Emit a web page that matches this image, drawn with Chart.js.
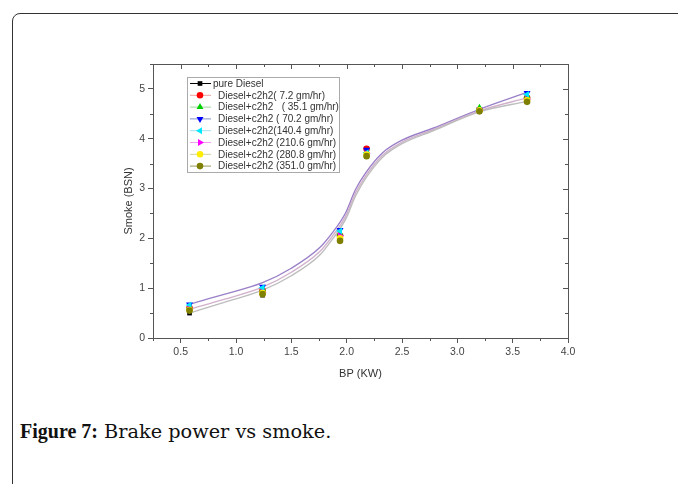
<!DOCTYPE html>
<html>
<head>
<meta charset="utf-8">
<script src="https://cdn.jsdelivr.net/npm/chart.js@4.4.1/dist/chart.umd.min.js"></script>
<style>
  html, body { margin: 0; padding: 0; background: #fff; }
  body { width: 678px; height: 484px; position: relative; overflow: hidden; }
  #frame {
    position: absolute; left: 12px; top: 13px; width: 720px; height: 520px;
    border: 1.5px solid #333; border-radius: 8px; box-sizing: border-box;
  }
  #wrap { position: absolute; left: 0; top: 0; width: 678px; height: 400px; }
  #caption {
    position: absolute; left: 20px; top: 420px; white-space: nowrap;
    font-family: "DejaVu Serif", "Liberation Serif", serif; font-size: 19.3px; color: #111;
  }
  #caption b { font-family: "Liberation Serif", serif; font-size: 20px; font-weight: bold; }
</style>
</head>
<body>
<div id="frame"></div>
<div id="wrap"><canvas id="grafico" width="678" height="400"></canvas></div>
<div id="caption"><b>Figure 7:</b> Brake power vs smoke.</div>

<script>
// Datos
const bpValues = [0.58, 1.24, 1.94, 2.18, 3.2, 3.63];

const seriesNames = [
    'pure Diesel',
    'Diesel+c2h2( 7.2 gm/hr)',
    'Diesel+c2h2   ( 35.1 gm/hr)',
    'Diesel+c2h2 ( 70.2 gm/hr)',
    'Diesel+c2h2(140.4 gm/hr)',
    'Diesel+c2h2 (210.6 gm/hr)',
    'Diesel+c2h2 (280.8 gm/hr)',
    'Diesel+c2h2 (351.0 gm/hr)'
];

const smokePure = [0.50, 0.86, 1.95, 3.65, 4.55, 4.75];
const smoke7_2 = [0.60, 0.95, 2.05, 3.80, 4.58, 4.82];
const smoke35_1 = [0.62, 0.98, 2.10, 3.75, 4.62, 4.86];
const smoke70_2 = [0.67, 1.03, 2.17, 3.78, 4.58, 4.92];
const smoke140_4 = [0.66, 1.01, 2.15, 3.72, 4.57, 4.89];
const smoke210_6 = [0.58, 0.92, 2.05, 3.70, 4.56, 4.79];
const smoke280_8 = [0.56, 0.90, 2.00, 3.68, 4.57, 4.77];
const smoke351_0 = [0.55, 0.88, 1.95, 3.65, 4.55, 4.74];

const fitX = [0.58, 0.9, 1.24, 1.5, 1.75, 1.87, 1.99, 2.08, 2.17, 2.32, 2.5, 2.78, 3.2, 3.63];
const fitTop = [0.68, 0.88, 1.11, 1.40, 1.80, 2.11, 2.51, 2.98, 3.31, 3.71, 3.97, 4.21, 4.59, 4.93];
const fitMid = [0.58, 0.78, 1.02, 1.32, 1.72, 2.04, 2.44, 2.91, 3.25, 3.66, 3.93, 4.18, 4.56, 4.82];
const fitLow = [0.50, 0.72, 0.96, 1.25, 1.65, 1.98, 2.38, 2.85, 3.20, 3.62, 3.90, 4.16, 4.54, 4.75];

const xTicks = [0.5, 1.0, 1.5, 2.0, 2.5, 3.0, 3.5, 4.0];
const yTicks = [0, 1, 2, 3, 4, 5];

document.addEventListener('DOMContentLoaded', () => {

    const allSeries = [smokePure, smoke7_2, smoke35_1, smoke70_2, smoke140_4, smoke210_6, smoke280_8, smoke351_0];
    const markerColors = ['#000000', '#ff0000', '#00d000', '#0000ff', '#00e8ff', '#ff00ff', '#ffee00', '#808000'];
    const legendLineColors = ['#000000', '#f4a0a0', '#a0d8a0', '#8090d0', '#a0e0f0', '#f0a0f0', '#d0d0a0', '#9a9a60'];
    const markerStyles = ['rect', 'circle', 'triangle', 'triangle', 'triangle', 'triangle', 'circle', 'circle'];
    const markerRot = [0, 0, 0, 180, -90, 90, 0, 0];

    const pointSets = allSeries.map((vals, i) => ({
        label: seriesNames[i],
        type: 'scatter',
        data: bpValues.map((x, j) => ({ x: x, y: vals[j] })),
        backgroundColor: markerColors[i],
        borderColor: markerColors[i],
        pointStyle: markerStyles[i],
        rotation: markerRot[i],
        pointRadius: markerStyles[i] === 'triangle' ? 4 : 3.3,
        borderWidth: 0,
        order: 10 - i, // como en Origin: la última serie queda encima
        legendLine: legendLineColors[i],
        showLine: false
    }));

    const fitSets = [
        { vals: fitLow, color: '#bdbdbd' },
        { vals: fitMid, color: '#d2b0cc' },
        { vals: fitTop, color: '#9a80c8' }
    ].map(f => ({
        label: '_fit',
        type: 'line',
        data: fitX.map((x, j) => ({ x: x, y: f.vals[j] })),
        borderColor: f.color,
        borderWidth: 1.4,
        pointRadius: 0,
        fill: false,
        cubicInterpolationMode: 'monotone',
        order: 20
    }));

    // Ejes en caja, ticks menores y leyenda con marco
    const boxPlugin = {
        id: 'boxPlugin',
        afterDraw(chart) {
            const { ctx, chartArea: a, scales: { x, y } } = chart;
            ctx.save();
            ctx.strokeStyle = '#555';
            ctx.lineWidth = 1;
            ctx.beginPath();
            ctx.rect(a.left + 0.5, a.top + 0.5, a.right - a.left, a.bottom - a.top);
            ctx.stroke();

            ctx.beginPath();
            const xMinor = [];
            for (let i = 0; i < xTicks.length - 1; i++) xMinor.push((xTicks[i] + xTicks[i + 1]) / 2);
            xMinor.push(xTicks[0] - (xTicks[1] - xTicks[0]) / 2);
            xTicks.forEach(v => {
                const px = Math.round(x.getPixelForValue(v)) + 0.5;
                ctx.moveTo(px, a.top); ctx.lineTo(px, a.top + 5);
            });
            xMinor.forEach(v => {
                const px = Math.round(x.getPixelForValue(v)) + 0.5;
                if (px < a.left || px > a.right + 1) return;
                ctx.moveTo(px, a.bottom); ctx.lineTo(px, a.bottom + 3);
                ctx.moveTo(px, a.top); ctx.lineTo(px, a.top + 3);
            });
            const yMinor = [];
            for (let i = 0; i < yTicks.length - 1; i++) yMinor.push((yTicks[i] + yTicks[i + 1]) / 2);
            yMinor.push(yTicks[yTicks.length - 1] + 0.5);
            yTicks.forEach(v => {
                const py = Math.round(y.getPixelForValue(v)) + 0.5;
                ctx.moveTo(a.right, py); ctx.lineTo(a.right - 5, py);
            });
            yMinor.forEach(v => {
                const py = Math.round(y.getPixelForValue(v)) + 0.5;
                if (py < a.top - 1) return;
                ctx.moveTo(a.left, py); ctx.lineTo(a.left - 3, py);
                ctx.moveTo(a.right, py); ctx.lineTo(a.right - 3, py);
            });
            ctx.stroke();

            // leyenda
            const lx = 187, ly = 77, lw = 152, lh = 95;
            ctx.fillStyle = '#fff';
            ctx.fillRect(lx, ly, lw, lh);
            ctx.strokeStyle = '#aaa';
            ctx.strokeRect(lx + 0.5, ly + 0.5, lw, lh);
            ctx.font = '10px "Liberation Sans", Arial, sans-serif';
            ctx.textBaseline = 'middle';
            ctx.textAlign = 'left';
            pointSets.forEach((ds, i) => {
                const cy = ly + 6.5 + i * 11.8;
                ctx.strokeStyle = ds.legendLine;
                ctx.lineWidth = 1;
                ctx.beginPath();
                ctx.moveTo(lx + 3, cy); ctx.lineTo(lx + 24, cy);
                ctx.stroke();
                ctx.fillStyle = ds.backgroundColor;
                Chart.helpers.drawPoint(ctx, {
                    pointStyle: ds.pointStyle,
                    rotation: ds.rotation,
                    radius: ds.pointRadius,
                    borderWidth: 0
                }, lx + 13, cy);
                ctx.fillStyle = '#333';
                ctx.fillText(ds.label, lx + (i === 0 ? 26 : 31), cy + 0.5);
            });
            ctx.restore();
        }
    };

    const tickFont = { family: '"Liberation Sans", Arial, sans-serif', size: 10.5 };

    new Chart(document.getElementById('grafico').getContext('2d'), {
        type: 'scatter',
        data: { datasets: pointSets.concat(fitSets) },
        options: {
            responsive: false,
            animation: false,
            devicePixelRatio: 1,
            layout: { padding: { left: 118, top: 64, right: 110, bottom: 15 } },
            plugins: {
                legend: { display: false },
                tooltip: { enabled: false }
            },
            scales: {
                x: {
                    type: 'linear',
                    min: 0.25,
                    max: 4.0,
                    afterBuildTicks: s => { s.ticks = xTicks.map(v => ({ value: v })); },
                    afterFit: s => { s.height = 47; },
                    ticks: { color: '#444', font: tickFont, padding: 3, callback: v => v.toFixed(1) },
                    grid: { drawOnChartArea: false, tickLength: 5, color: '#555' },
                    border: { color: '#555' },
                    title: { display: true, text: 'BP (KW)', color: '#333', font: { family: tickFont.family, size: 11 }, padding: { top: 6 } }
                },
                y: {
                    type: 'linear',
                    min: 0,
                    max: 5.5,
                    afterBuildTicks: s => { s.ticks = yTicks.map(v => ({ value: v })); },
                    afterFit: s => { s.width = 35; },
                    ticks: { color: '#444', font: tickFont, padding: 3 },
                    grid: { drawOnChartArea: false, tickLength: 5, color: '#555' },
                    border: { color: '#555' },
                    title: { display: true, text: 'Smoke (BSN)', color: '#333', font: { family: tickFont.family, size: 11 }, padding: { bottom: 2 } }
                }
            }
        },
        plugins: [boxPlugin]
    });
});
</script>
</body>
</html>
